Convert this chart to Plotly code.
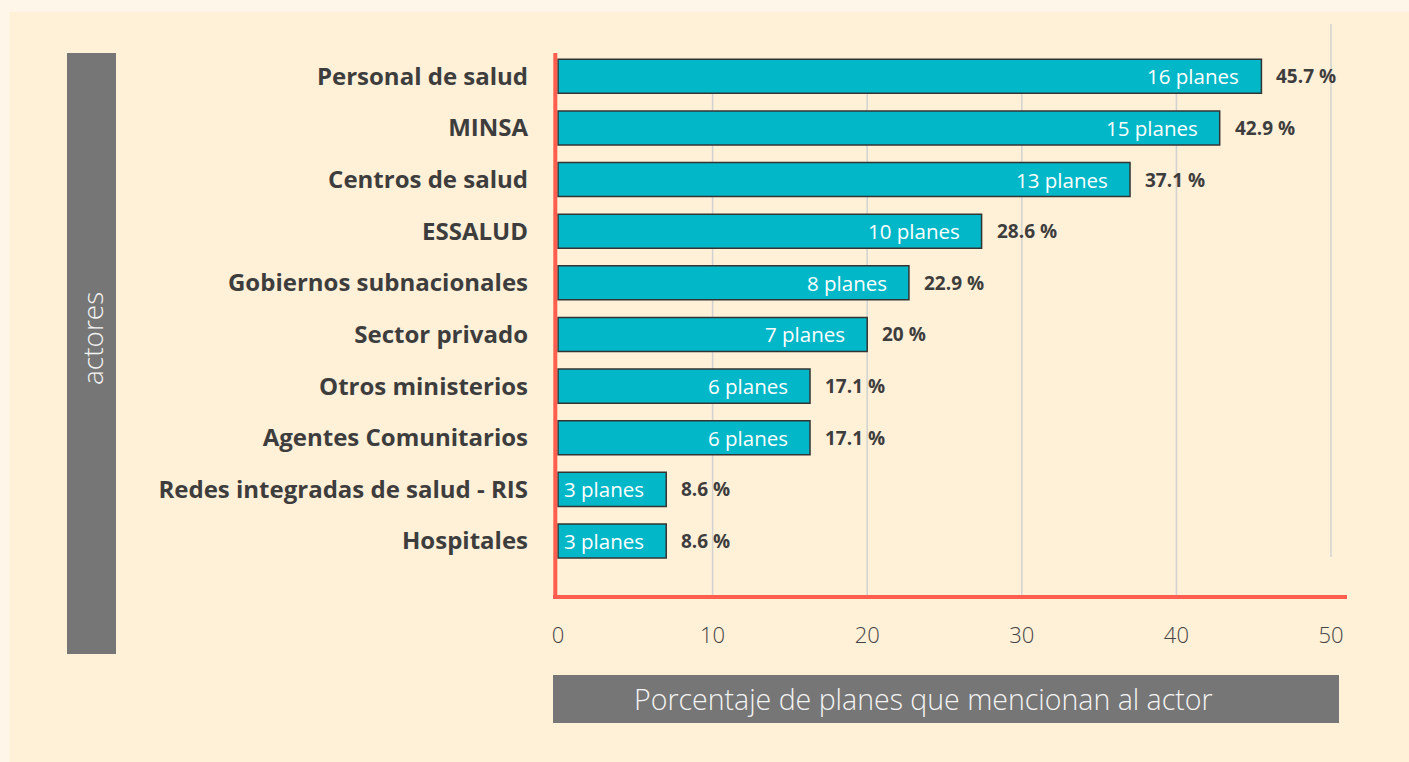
import plotly.graph_objects as go

# ---------------- data ----------------
actores = ["Personal de salud", "MINSA", "Centros de salud", "ESSALUD",
           "Gobiernos subnacionales", "Sector privado", "Otros ministerios",
           "Agentes Comunitarios", "Redes integradas de salud - RIS", "Hospitales"]
bar_values = [45.5, 42.8, 37.0, 27.4, 22.7, 20.0, 16.3, 16.3, 7.0, 7.0]
planes_labels = ["16 planes", "15 planes", "13 planes", "10 planes", "8 planes",
                 "7 planes", "6 planes", "6 planes", "3 planes", "3 planes"]
pct_labels = ["45.7 %", "42.9 %", "37.1 %", "28.6 %", "22.9 %", "20 %",
              "17.1 %", "17.1 %", "8.6 %", "8.6 %"]
x_ticks = [0, 10, 20, 30, 40, 50]
x_title = "Porcentaje de planes que mencionan al actor"
y_title = "actores"

# ---------------- layout constants (pixels) ----------------
W, H = 1409, 762
L, R = 553, 1347          # plot area left/right px
T, B = 53, 598            # plot area top/bottom px
PW, PH = R - L, B - T

def px_x(p):
    return (p - L) / PW

def px_y(p):
    return (B - p) / PH

OUTER = "#FFF6EA"
INNER = "#FFF0D8"
BAR = "#02B8C8"
RED = "#FF5E4E"
GRAY = "#767676"
TXT = "#3d3d3d"
GRID = "#d2d2d2"

fig = go.Figure()
fig.add_trace(go.Bar(
    x=bar_values, y=actores, orientation="h",
    marker=dict(color=BAR, line=dict(color="#333333", width=1.5)),
    width=0.66, hoverinfo="skip", showlegend=False,
))

annotations = []
for a, v, pl, pc in zip(actores, bar_values, planes_labels, pct_labels):
    annotations.append(dict(x=v, y=a, xref="x", yref="y", text=pl, showarrow=False,
                            xanchor="right", xshift=-20,
                            font=dict(family="Open Sans", size=20.5, color="white")))
    annotations.append(dict(x=v, y=a, xref="x", yref="y", text=pc, showarrow=False,
                            xanchor="left", xshift=13,
                            font=dict(family="Open Sans", size=19, color=TXT, weight="bold")))

shapes = []
# inner background panel
shapes.append(dict(type="rect", xref="paper", yref="paper", layer="below",
                   x0=px_x(9.6), x1=px_x(W + 5), y0=px_y(H + 5), y1=px_y(11.7),
                   fillcolor=INNER, line=dict(width=0)))
# y title box
shapes.append(dict(type="rect", xref="paper", yref="paper", layer="below",
                   x0=px_x(67), x1=px_x(116), y0=px_y(654), y1=px_y(53),
                   fillcolor=GRAY, line=dict(width=0)))
# x title box
shapes.append(dict(type="rect", xref="paper", yref="paper", layer="below",
                   x0=px_x(553), x1=px_x(1339), y0=px_y(723), y1=px_y(675),
                   fillcolor=GRAY, line=dict(width=0)))
# gridlines
for t in x_ticks[1:]:
    if t == x_ticks[-1]:
        y0, y1 = px_y(557), px_y(24)
    else:
        y0, y1 = 0, px_y(59)
    shapes.append(dict(type="line", xref="x", yref="paper", layer="below",
                       x0=t, x1=t, y0=y0, y1=y1, line=dict(color=GRID, width=1.5)))
# red axis lines
shapes.append(dict(type="line", xref="paper", yref="paper", layer="above",
                   x0=px_x(555.3), x1=px_x(555.3), y0=px_y(599), y1=px_y(53),
                   line=dict(color=RED, width=4)))
shapes.append(dict(type="line", xref="paper", yref="paper", layer="above",
                   x0=px_x(553), x1=px_x(1347), y0=px_y(597), y1=px_y(597),
                   line=dict(color=RED, width=4)))

annotations.append(dict(x=px_x(923), y=px_y(699), xref="paper", yref="paper",
                        text=x_title, showarrow=False, xanchor="center", yanchor="middle",
                        font=dict(family="Open Sans", size=28.5, color="#f4f4f4", weight=300)))
annotations.append(dict(x=px_x(92), y=px_y(339), xref="paper", yref="paper",
                        text=y_title, showarrow=False, textangle=-90,
                        xanchor="center", yanchor="middle",
                        font=dict(family="Open Sans", size=28, color="#f4f4f4", weight=300)))

x0_px = 558.0
scale = (1331.0 - 558.0) / 50.0
xr = [(L - x0_px) / scale, (R - x0_px) / scale]
step = (541.0 - 76.3) / 9
yr = [(B - 76.3) / step, (T - 76.3) / step]

fig.update_layout(
    width=W, height=H,
    margin=dict(l=L, r=W - R, t=T, b=H - B, pad=0),
    paper_bgcolor=OUTER, plot_bgcolor="rgba(0,0,0,0)",
    xaxis=dict(range=xr, showgrid=False, zeroline=False, showline=False,
               tickvals=x_ticks, ticks="", ticklabelstandoff=22,
               tickfont=dict(family="Open Sans", size=22, color="#444444", weight=300)),
    yaxis=dict(type="category", categoryorder="array", categoryarray=actores,
               range=yr, showgrid=False, zeroline=False, showline=False,
               ticks="", ticklabelstandoff=24,
               tickfont=dict(family="Open Sans", size=24, color=TXT, weight="bold")),
    shapes=shapes, annotations=annotations,
    bargap=0.34,
)

fig.write_html("out.html",
               config={"displayModeBar": False},
               post_script="document.body.style.margin='0';"
                           "document.body.style.background='#FFF6EA';")
